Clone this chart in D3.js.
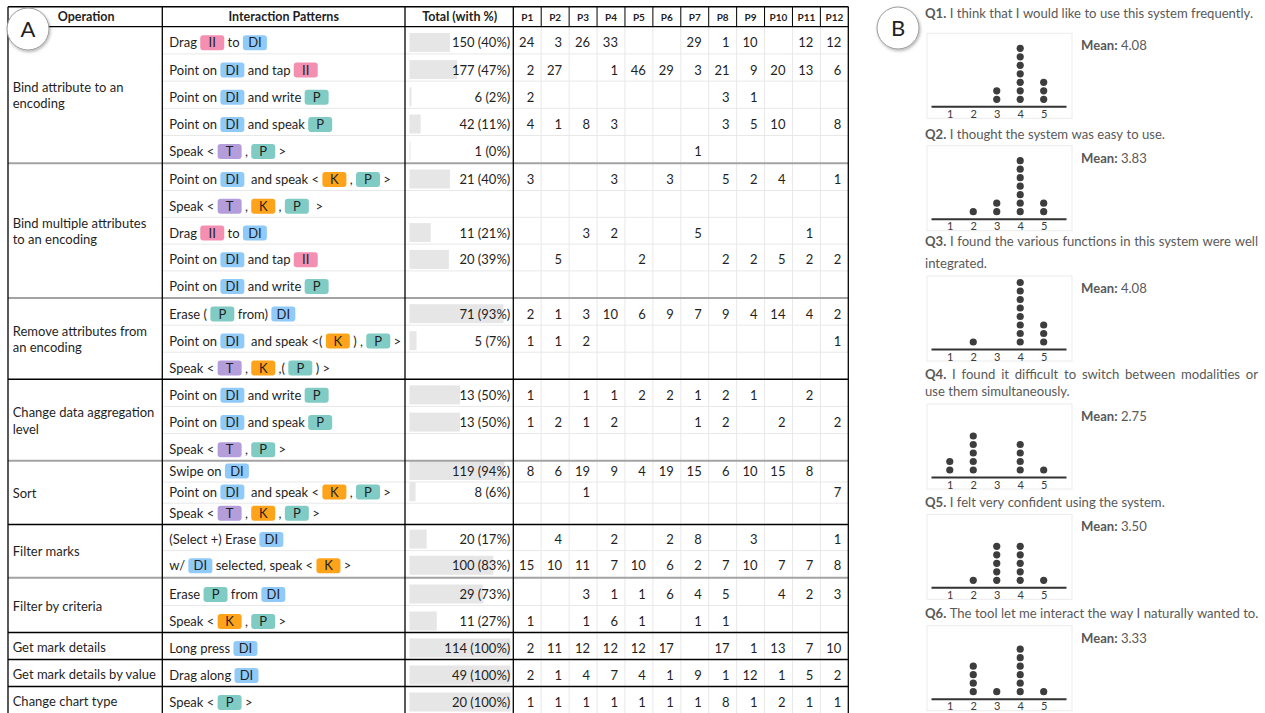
<!DOCTYPE html>
<html>
<head>
<meta charset="utf-8">
<script src="https://cdn.jsdelivr.net/npm/d3@7"></script>
<style>
  html, body { margin: 0; padding: 0; background: #fff; }
  svg { display: block; font-family: Lato, "Open Sans", sans-serif; }
  text { white-space: pre; }
</style>
</head>
<body>
<div id="chart"></div>
<script>
const width = 1265, height = 713;

// ---- table data ----
const participants = ['P1','P2','P3','P4','P5','P6','P7','P8','P9','P10','P11','P12'];
const headers = ['Operation', 'Interaction Patterns', 'Total (with %)'];

const operations = [
  ['Bind attribute to an', 'encoding'],
  ['Bind multiple attributes', 'to an encoding'],
  ['Remove attributes from', 'an encoding'],
  ['Change data aggregation', 'level'],
  ['Sort'],
  ['Filter marks'],
  ['Filter by criteria'],
  ['Get mark details'],
  ['Get mark details by value'],
  ['Change chart type']
];
const operationSizes = [5, 5, 3, 3, 3, 2, 2, 1, 1, 1];

// {X} marks a coloured modality chip
const patterns = [
  'Drag {II} to {DI}',
  'Point on {DI} and tap {II}',
  'Point on {DI} and write {P}',
  'Point on {DI} and speak {P}',
  'Speak < {T} , {P} >',
  'Point on {DI}  and speak < {K} , {P} >',
  'Speak < {T} , {K} , {P}  >',
  'Drag {II} to {DI}',
  'Point on {DI} and tap {II}',
  'Point on {DI} and write {P}',
  'Erase ( {P} from) {DI}',
  'Point on {DI}  and speak <( {K} ) , {P} >',
  'Speak < {T} , {K} ,( {P} ) >',
  'Point on {DI} and write {P}',
  'Point on {DI} and speak {P}',
  'Speak < {T} , {P} >',
  'Swipe on {DI}',
  'Point on {DI}  and speak < {K} , {P} >',
  'Speak < {T} , {K} , {P} >',
  '(Select +) Erase {DI}',
  'w/ {DI} selected, speak < {K} >',
  'Erase {P} from {DI}',
  'Speak < {K} , {P} >',
  'Long press {DI}',
  'Drag along {DI}',
  'Speak < {P} >'
];

const totals   = [150, 177, 6, 42, 1, 21, null, 11, 20, null, 71, 5, null, 13, 13, null, 119, 8, null, 20, 100, 29, 11, 114, 49, 20];
const percents = [40, 47, 2, 11, 0, 40, null, 21, 39, null, 93, 7, null, 50, 50, null, 94, 6, null, 17, 83, 73, 27, 100, 100, 100];

const _ = null;
const counts = [
  [24, 3, 26, 33, _, _, 29, 1, 10, _, 12, 12],
  [2, 27, _, 1, 46, 29, 3, 21, 9, 20, 13, 6],
  [2, _, _, _, _, _, _, 3, 1, _, _, _],
  [4, 1, 8, 3, _, _, _, 3, 5, 10, _, 8],
  [_, _, _, _, _, _, 1, _, _, _, _, _],
  [3, _, _, 3, _, 3, _, 5, 2, 4, _, 1],
  [_, _, _, _, _, _, _, _, _, _, _, _],
  [_, _, 3, 2, _, _, 5, _, _, _, 1, _],
  [_, 5, _, _, 2, _, _, 2, 2, 5, 2, 2],
  [_, _, _, _, _, _, _, _, _, _, _, _],
  [2, 1, 3, 10, 6, 9, 7, 9, 4, 14, 4, 2],
  [1, 1, 2, _, _, _, _, _, _, _, _, 1],
  [_, _, _, _, _, _, _, _, _, _, _, _],
  [1, _, 1, 1, 2, 2, 1, 2, 1, _, 2, _],
  [1, 2, 1, 2, _, _, 1, 2, _, 2, _, 2],
  [_, _, _, _, _, _, _, _, _, _, _, _],
  [8, 6, 19, 9, 4, 19, 15, 6, 10, 15, 8, _],
  [_, _, 1, _, _, _, _, _, _, _, _, 7],
  [_, _, _, _, _, _, _, _, _, _, _, _],
  [_, 4, _, 2, _, 2, 8, _, 3, _, _, 1],
  [15, 10, 11, 7, 10, 6, 2, 7, 10, 7, 7, 8],
  [_, _, 3, 1, 1, 6, 4, 5, _, 4, 2, 3],
  [1, _, 1, 6, 1, _, 1, 1, _, _, _, _],
  [2, 11, 12, 12, 12, 17, _, 17, 1, 13, 7, 10],
  [2, 1, 4, 7, 4, 1, 9, 1, 12, 1, 5, 2],
  [1, 1, 1, 1, 1, 1, 1, 8, 1, 2, 1, 1]
];

// ---- questionnaire data ----
const questions = [
  ['Q1.', ['I think that I would like to use this system frequently.']],
  ['Q2.', ['I thought the system was easy to use.']],
  ['Q3.', ['I found the various functions in this system were well', 'integrated.']],
  ['Q4.', ['I found it difficult to switch between modalities or', 'use them simultaneously.']],
  ['Q5.', ['I felt very confident using the system.']],
  ['Q6.', ['The tool let me interact the way I naturally wanted to.']]
];
const likert = [1, 2, 3, 4, 5];
const responses = [
  [0, 0, 2, 7, 3],
  [0, 1, 2, 7, 2],
  [0, 1, 0, 8, 3],
  [2, 5, 0, 4, 1],
  [0, 1, 5, 5, 1],
  [0, 4, 1, 6, 1]
];
const means = ['4.08', '3.83', '4.08', '2.75', '3.50', '3.33'];

// ---- styles ----
const chipColors = { II: '#f48fb1', DI: '#90caf9', P: '#80cbc4', T: '#b39ddb', K: '#ffa31a' };
const ink = '#1f1f1f';
const grid = '#e8e8e8';

// ---- layout ----
const tbl = { left: 8, opRight: 162.3, patRight: 405, totRight: 513.3, right: 848.3, top: 6.7, headBottom: 26.7 };
const sectionRowH = [27.2, 26.8, 27, 27.2, 21.2, 26.2, 27, 27, 27, 27];
const sectionGap  = [0, 1, 0.5, 0, 0, 0, 1.7, 0, 0, 0];
const darkBoundary = [false, false, true, false, true, false, true, true, true];

const svg = d3.select('#chart').append('svg').attr('width', width).attr('height', height);

const shadow = svg.append('defs').append('filter').attr('id', 'shadow')
  .attr('x', '-30%').attr('y', '-30%').attr('width', '160%').attr('height', '160%');
shadow.append('feDropShadow')
  .attr('dx', 1).attr('dy', 1.5).attr('stdDeviation', 1.4)
  .attr('flood-color', '#000').attr('flood-opacity', 0.3);

// rows
const rows = [];
const sections = [];
let cy = tbl.headBottom;
operationSizes.forEach((n, s) => {
  cy += sectionGap[s];
  const top = cy;
  for (let i = 0; i < n; i++) {
    rows.push({ y0: cy, y1: cy + sectionRowH[s], s, last: i === n - 1 });
    cy += sectionRowH[s];
  }
  sections.push({ top, bottom: cy });
});
rows.forEach((r, i) => {
  r.pattern = patterns[i];
  r.total = totals[i];
  r.pct = percents[i];
  r.counts = counts[i];
});

const px = d3.scaleBand().domain(participants).range([tbl.totRight, tbl.right]);
const barW = d3.scaleLinear().domain([0, 100]).range([0, 101]);
const bottomY = height;

const table = svg.append('g');

// light grid
table.append('g').selectAll('line')
  .data(participants.slice(1))
  .join('line')
  .attr('x1', d => px(d)).attr('x2', d => px(d))
  .attr('y1', tbl.headBottom).attr('y2', bottomY)
  .attr('stroke', grid);

table.append('g').selectAll('line')
  .data(rows.filter(r => !r.last))
  .join('line')
  .attr('x1', tbl.opRight).attr('x2', tbl.right)
  .attr('y1', d => d.y1).attr('y2', d => d.y1)
  .attr('stroke', grid);

// total bars
table.append('g').selectAll('rect')
  .data(rows.filter(r => r.pct !== null))
  .join('rect')
  .attr('x', tbl.patRight + 4.5)
  .attr('y', d => d.y1 - 21)
  .attr('width', d => Math.max(1, barW(d.pct)))
  .attr('height', 19)
  .attr('fill', '#e6e6e6');

table.append('g').selectAll('text')
  .data(rows.filter(r => r.total !== null))
  .join('text')
  .attr('x', tbl.totRight - 3)
  .attr('y', d => d.y1 - 6.5)
  .attr('text-anchor', 'end')
  .attr('font-size', 13)
  .attr('fill', ink)
  .text(d => `${d.total} (${d.pct}%)`);

// participant counts
const countCells = rows.flatMap(r => r.counts.map((v, j) => ({ v, p: participants[j], y1: r.y1 })))
  .filter(d => d.v !== null);
table.append('g').selectAll('text')
  .data(countCells)
  .join('text')
  .attr('x', d => px(d.p) + px.bandwidth() - 7)
  .attr('y', d => d.y1 - 6.5)
  .attr('text-anchor', 'end')
  .attr('font-size', 13)
  .attr('fill', ink)
  .text(d => d.v);

// interaction patterns with chips
rows.forEach(r => {
  const g = table.append('g');
  let x = tbl.opRight + 7;
  r.pattern.split(/(\{[A-Z]+\})/).filter(t => t.length).forEach(tok => {
    const m = tok.match(/^\{([A-Z]+)\}$/);
    if (m) {
      g.append('rect')
        .attr('x', x).attr('y', r.y1 - 18.6)
        .attr('width', 24).attr('height', 15).attr('rx', 3)
        .attr('fill', chipColors[m[1]]);
      g.append('text')
        .attr('x', x + 12).attr('y', r.y1 - 6.5)
        .attr('text-anchor', 'middle')
        .attr('font-size', 13)
        .attr('fill', ink)
        .text(m[1]);
      x += 24;
    } else {
      const t = g.append('text')
        .attr('x', x).attr('y', r.y1 - 6.5)
        .attr('font-size', 13)
        .attr('fill', ink)
        .text(tok);
      x += t.node().getComputedTextLength();
    }
  });
});

// operation labels
table.append('g').selectAll('text')
  .data(sections.map((s, i) => ({ ...s, lines: operations[i] })))
  .join('text')
  .attr('font-size', 13)
  .attr('fill', ink)
  .each(function (d) {
    const mid = (d.top + d.bottom) / 2 + 1;
    const lh = 16.5;
    d3.select(this).selectAll('tspan')
      .data(d.lines)
      .join('tspan')
      .attr('x', tbl.left + 4.7)
      .attr('y', (l, i) => mid + 4.5 + (i - (d.lines.length - 1) / 2) * lh)
      .text(l => l);
  });

// section boundaries
table.append('g').selectAll('line')
  .data(darkBoundary.map((dark, i) => ({ dark, y: (sections[i].bottom + sections[i + 1].top) / 2 })))
  .join('line')
  .attr('x1', tbl.left).attr('x2', tbl.right)
  .attr('y1', d => d.y).attr('y2', d => d.y)
  .attr('stroke', d => d.dark ? '#000' : '#a3a3a3')
  .attr('stroke-width', d => d.dark ? 1.5 : 2);

// header
table.append('g').selectAll('line')
  .data(participants.slice(1))
  .join('line')
  .attr('x1', d => px(d)).attr('x2', d => px(d))
  .attr('y1', tbl.top).attr('y2', tbl.headBottom)
  .attr('stroke', '#000');

table.append('line')
  .attr('x1', tbl.left).attr('x2', tbl.right)
  .attr('y1', tbl.top).attr('y2', tbl.top)
  .attr('stroke', '#000').attr('stroke-width', 1.4);
table.append('line')
  .attr('x1', tbl.left).attr('x2', tbl.right)
  .attr('y1', tbl.headBottom).attr('y2', tbl.headBottom)
  .attr('stroke', '#000').attr('stroke-width', 1.2);

const headCenters = [
  (tbl.left + tbl.opRight) / 2 + 1,
  (tbl.opRight + tbl.patRight) / 2,
  (tbl.patRight + tbl.totRight) / 2 + 0.5
];
table.append('g').selectAll('text')
  .data(headers)
  .join('text')
  .attr('x', (d, i) => headCenters[i])
  .attr('y', 21.2)
  .attr('text-anchor', 'middle')
  .attr('font-size', 12.5)
  .attr('font-weight', 'bold')
  .attr('fill', ink)
  .text(d => d);

table.append('g').selectAll('text')
  .data(participants)
  .join('text')
  .attr('x', d => px(d) + px.bandwidth() / 2)
  .attr('y', 20.5)
  .attr('text-anchor', 'middle')
  .attr('font-size', 10)
  .attr('font-weight', 'bold')
  .attr('fill', ink)
  .text(d => d);

// main vertical borders
table.append('g').selectAll('line')
  .data([tbl.left, tbl.opRight, tbl.patRight, tbl.totRight, tbl.right])
  .join('line')
  .attr('x1', d => d).attr('x2', d => d)
  .attr('y1', tbl.top).attr('y2', bottomY)
  .attr('stroke', '#000').attr('stroke-width', 1.3);

// panel badges
const badges = [{ label: 'A', x: 28, y: 29 }, { label: 'B', x: 898, y: 28 }];
const badge = svg.append('g').selectAll('g')
  .data(badges)
  .join('g')
  .attr('transform', d => `translate(${d.x},${d.y})`);
badge.append('circle')
  .attr('r', 21)
  .attr('fill', '#fff')
  .attr('stroke', '#9a9a9a')
  .attr('stroke-width', 1)
  .attr('filter', 'url(#shadow)');
badge.append('text')
  .attr('text-anchor', 'middle')
  .attr('y', 8)
  .attr('font-size', 22)
  .attr('fill', '#222')
  .text(d => d.label);

// ---- dot plots ----
const qLayout = {
  textX: 925, justifyTo: 1258,
  boxX: 927, boxW: 145, boxH: 85,
  boxTop: [33.3, 145.7, 276, 404, 514.3, 625.7],
  lineY: [[17.5], [139], [246, 267.5], [378.5, 396], [506.5], [617.5]]
};
const qGrey = '#595959';
const qSize = 13.1;
const x = d3.scaleLinear().domain([0.2, 5.95]).range([931, 1066]);

questions.forEach(([label, lines], qi) => {
  const g = svg.append('g');
  const top = qLayout.boxTop[qi];

  // question text, justified when it wraps
  lines.forEach((line, li) => {
    const words = (li === 0 ? [label] : []).concat(line.split(' '));
    const yy = qLayout.lineY[qi][li];
    const nodes = words.map((w, wi) => g.append('text')
      .attr('y', yy)
      .attr('font-size', qSize)
      .attr('fill', qGrey)
      .attr('font-weight', li === 0 && wi === 0 ? 'bold' : null)
      .text(w));
    const widths = nodes.map(n => n.node().getComputedTextLength());
    const justify = lines.length > 1 && li < lines.length - 1;
    const space = 3.4;
    const gap = justify
      ? (qLayout.justifyTo - qLayout.textX - d3.sum(widths)) / (words.length - 1)
      : space;
    let xx = qLayout.textX;
    nodes.forEach((n, i) => { n.attr('x', xx); xx += widths[i] + gap; });
  });

  g.append('rect')
    .attr('x', qLayout.boxX).attr('y', top)
    .attr('width', qLayout.boxW).attr('height', qLayout.boxH)
    .attr('fill', '#fff').attr('stroke', '#ebebeb');

  const axisY = top + 73;
  const axis = g.append('g')
    .attr('transform', `translate(0,${axisY})`)
    .call(d3.axisBottom(x).tickValues(likert).tickFormat(d3.format('d')).tickSize(0).tickPadding(4));
  axis.attr('font-size', null).attr('font-family', null);
  axis.select('.domain').attr('stroke', '#333').attr('stroke-width', 2);
  axis.selectAll('text')
    .style('font-family', 'Lato, sans-serif')
    .style('font-size', '11px')
    .attr('fill', '#3a3a3a');

  const dots = responses[qi].flatMap((n, li) => d3.range(n).map(k => ({ v: likert[li], k })));
  g.append('g').selectAll('circle')
    .data(dots)
    .join('circle')
    .attr('cx', d => x(d.v))
    .attr('cy', d => axisY - 7 - d.k * 8.5)
    .attr('r', 3.6)
    .attr('fill', '#3d3d3d');

  g.append('text')
    .attr('x', 1081).attr('y', top + 17)
    .attr('font-size', qSize)
    .attr('fill', qGrey)
    .call(t => t.append('tspan').attr('font-weight', 'bold').text('Mean:'))
    .call(t => t.append('tspan').text(' ' + means[qi]));
});
</script>
</body>
</html>
